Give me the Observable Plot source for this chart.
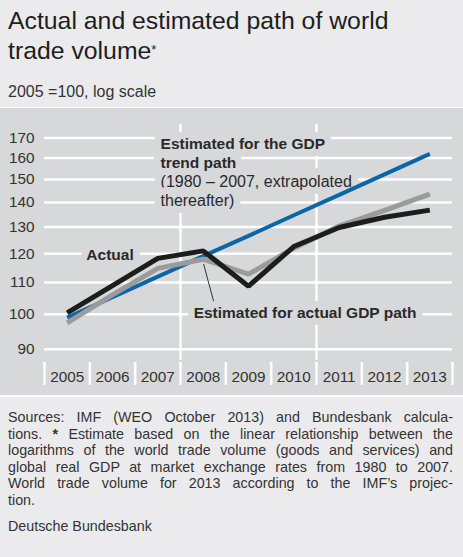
<!DOCTYPE html>
<html><head><meta charset="utf-8">
<script src="https://cdn.jsdelivr.net/npm/d3@7"></script>
<script src="https://cdn.jsdelivr.net/npm/@observablehq/plot@0.6"></script>
<style>
body{margin:0;background:#fff;font-family:"Liberation Sans",Arial,sans-serif;color:#222;}
#wrap{width:463px;}
#head{background:#ebebed;height:107px;padding:0 8px;box-sizing:border-box;overflow:hidden;}
#title{font-size:24.8px;line-height:30px;padding-top:6px;color:#1e1e1e;}
#title sup{font-size:13px;vertical-align:top;position:relative;top:-1px;}
#sub{font-size:16px;line-height:18px;margin-top:17px;color:#333;}
#chart{background:#d7d8da;height:287px;}
#chart svg{display:block;}
#foot{background:#ebebed;height:160px;padding:12px 10px 0 8px;box-sizing:border-box;font-size:14.3px;line-height:16.6px;color:#333;}
#notes{text-align:justify;text-align-last:justify;}
#src{margin-top:9px;}
</style></head>
<body><div id="wrap">
<div id="head"><div id="title">Actual and estimated path of world<br>trade volume<sup>*</sup></div><div id="sub">2005 =100, log scale</div></div>
<div style="height:1px;background:#fff"></div>
<div id="chart"></div>
<div style="height:2px;background:#fff"></div>
<div id="foot">
<div id="notes">Sources: IMF (WEO October 2013) and Bundesbank calcula-<br>tions. <b>*</b> Estimate based on the linear relationship between the<br>logarithms of the world trade volume (goods and services) and<br>global real GDP at market exchange rates from 1980 to 2007.<br>World trade volume for 2013 according to the IMF’s projec-<br>tion.</div>
<div id="src">Deutsche Bundesbank</div>
</div>
</div>
<script>
const years = [2005, 2006, 2007, 2008, 2009, 2010, 2011, 2012, 2013];
const trendPath = [99, 105.3, 112, 119.1, 126.6, 134.7, 143.2, 152.3, 162];
const estimatedActual = [97.4, 106, 114.8, 118, 112.8, 122, 130.4, 136.7, 143.5];
const actual = [100.4, 109, 118.3, 121, 108.8, 122.6, 129.8, 133.9, 136.8];
const yTicks = [90, 100, 110, 120, 130, 140, 150, 160, 170];
const vGrid = [2007.5, 2010.5];
const separators = [2004.5, 2005.5, 2006.5, 2007.5, 2008.5, 2009.5, 2010.5, 2011.5, 2012.5, 2013.5];

const panel = "#d7d8da";
const font = "Liberation Sans, Arial, sans-serif";
const series = [
  {name: "trend", values: trendPath, color: "#0a66a8", width: 4},
  {name: "estActual", values: estimatedActual, color: "#9b9b9b", width: 5},
  {name: "actual", values: actual, color: "#1d1d1b", width: 5}
];
const rows = series.flatMap(s => s.values.map((v, i) => ({series: s.name, year: years[i], value: v})));

const labels = [
  {x: 2007.06, y: 162.9, text: "Estimated for the GDP\ntrend path", bold: true, anchor: "start"},
  {x: 2007.06, y: 145.3, text: "(1980 – 2007, extrapolated\nthereafter)", bold: false, anchor: "start"},
  {x: 2005.945, y: 120, text: "Actual", bold: true, anchor: "middle"},
  {x: 2007.79, y: 100.75, text: "Estimated for actual GDP path", bold: true, anchor: "start"}
];
const leader = [{x1: 2008.01, y1: 116.3, x2: 2008.23, y2: 104}];

const textOpts = (bold) => {
  const fs = bold ? 15.5 : 16;
  return {
    x: "x", y: "y", text: "text", textAnchor: "start",
    fontSize: fs, lineHeight: 19 / fs, fontWeight: bold ? "bold" : "normal", fill: "#2a2a2a",
    stroke: panel, strokeWidth: 14, paintOrder: "stroke"
  };
};

const chart = Plot.plot({
  width: 463, height: 287,
  marginLeft: 44, marginRight: 11, marginTop: 16, marginBottom: 10,
  style: {background: "transparent", fontFamily: font},
  x: {domain: [2004.5, 2013.5], axis: null},
  y: {type: "log", domain: [87, 177], range: [252, 16], axis: null},
  marks: [
    Plot.ruleY(yTicks, {stroke: "#fff", strokeWidth: 2.5}),
    Plot.ruleX(vGrid, {stroke: "#fff", strokeWidth: 2.5, insetBottom: 25}),
    Plot.ruleX(separators, {stroke: "#fff", strokeWidth: 2.5, insetTop: 238}),
    Plot.text(yTicks, {x: 2004.5, y: d => d, text: d => String(d), textAnchor: "end", dx: -10, fontSize: 15.3, fill: "#333"}),
    Plot.text(years, {x: d => d, frameAnchor: "bottom", text: d => String(d), lineAnchor: "bottom", dy: -4, fontSize: 15.3, fill: "#333"}),
    Plot.text(labels.filter(d => d.bold && d.anchor === "start"), textOpts(true)),
    Plot.text(labels.filter(d => !d.bold), textOpts(false)),
    Plot.text(labels.filter(d => d.anchor === "middle"), {...textOpts(true), textAnchor: "middle"}),
    Plot.link(leader, {x1: "x1", y1: "y1", x2: "x2", y2: "y2", stroke: "#333", strokeWidth: 1}),
    ...series.map(s => Plot.line(rows.filter(r => r.series === s.name), {
      x: "year", y: "value", stroke: s.color, strokeWidth: s.width, strokeLinejoin: "miter", strokeLinecap: "butt"
    }))
  ]
});
document.getElementById("chart").appendChild(chart);
</script>
</body></html>
